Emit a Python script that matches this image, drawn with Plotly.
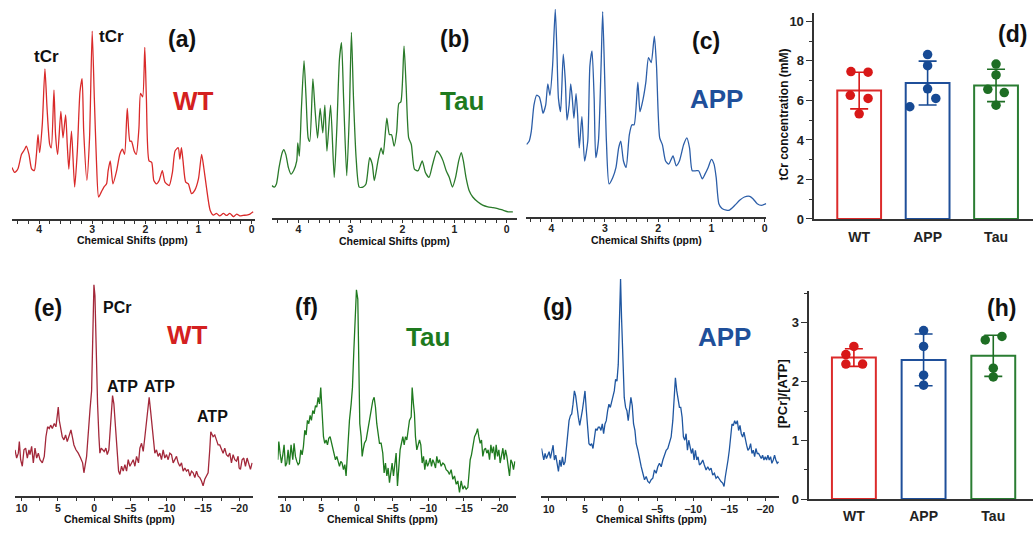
import plotly.graph_objects as go

W, H = 1034, 535

# ---------------- 1H spectra (a) WT, (b) Tau, (c) APP ----------------
ppm_a = [4.51,4.46,4.40,4.33,4.27,4.24,4.19,4.14,4.09,4.05,
         4.02,3.99,3.94,3.89,3.85,3.80,3.77,3.72,3.69,3.65,
         3.59,3.55,3.50,3.47,3.44,3.39,3.33,3.28,3.23,3.19,
         3.16,3.10,3.05,3.00,2.96,2.92,2.88,2.83,2.78,2.73,
         2.70,2.66,2.61,2.54,2.48,2.43,2.39,2.34,2.29,2.26,
         2.21,2.17,2.12,2.09,2.05,2.01,1.98,1.93,1.88,1.84,
         1.79,1.74,1.68,1.63,1.55,1.49,1.44,1.38,1.35,1.32,
         1.29,1.24,1.19,1.13,1.07,1.00,0.94,0.90,0.85,0.78,
         0.72,0.66,0.60,0.53,0.47,0.41,0.34,0.28,0.22,0.16,
         0.09,0.03,-0.03]
int_a = [27.4,24.8,26.6,34.4,37.1,38.8,34.4,26.6,25.7,34.4,
         44.9,35.3,50.2,79.9,58.9,39.7,37.9,68.5,44.9,34.4,
         57.2,43.2,55.4,39.7,26.6,46.7,17.0,36.2,67.7,74.7,
         46.7,20.5,43.2,100,64.2,30.9,11.7,14.3,17.0,18.7,
         25.7,30.9,18.7,25.7,34.4,37.1,34.4,58.9,41.4,41.4,
         36.2,34.4,48.4,66.8,65.0,91.3,64.2,30.9,30.1,20.5,
         18.7,20.5,25.7,19.6,17.8,24.8,36.2,37.9,31.8,37.9,
         30.9,19.6,18.7,13.5,15.2,21.3,34.4,27.4,17.0,4.7,
         2.1,3.0,1.6,3.0,1.9,3.0,1.2,2.6,1.6,1.9,
         2.1,2.6,3.8]

ppm_b = [4.51,4.46,4.42,4.37,4.31,4.28,4.24,4.19,4.14,4.09,
         4.03,4.01,3.98,3.94,3.89,3.85,3.81,3.78,3.72,3.68,
         3.63,3.58,3.53,3.49,3.45,3.38,3.31,3.26,3.21,3.17,
         3.13,3.07,3.02,2.98,2.94,2.89,2.83,2.76,2.70,2.63,
         2.58,2.54,2.47,2.41,2.37,2.30,2.25,2.21,2.16,2.11,
         2.07,2.03,1.97,1.93,1.88,1.83,1.77,1.70,1.62,1.56,
         1.49,1.42,1.34,1.28,1.22,1.16,1.10,1.04,0.98,0.92,
         0.87,0.83,0.78,0.72,0.65,0.55,0.46,0.36,0.26,0.17,
         0.07,-0.03,-0.12]
int_b = [17.6,16.8,18.5,27.3,35.3,37.0,34.4,27.3,23.8,25.6,
         30.9,40.6,33.5,59.1,84.7,64.4,43.2,41.4,75.0,59.1,
         43.2,59.1,45.9,60.8,36.2,60.8,22.0,48.5,85.5,94.4,
         64.4,22.9,55.6,100,64.4,32.6,16.8,16.8,18.5,32.6,
         29.1,20.3,30.9,37.9,34.4,53.8,45.0,45.0,38.8,46.7,
         61.7,62.6,92.6,71.4,43.2,39.7,26.5,25.6,30.9,24.7,
         22.0,29.1,36.2,34.4,30.9,25.6,22.0,16.8,22.0,30.9,
         35.3,30.9,22.0,15.0,11.5,8.8,7.1,6.2,5.8,5.3,
         4.4,3.5,3.5]

ppm_c = [4.47,4.42,4.38,4.33,4.28,4.23,4.19,4.16,4.11,4.07,
         4.03,3.98,3.93,3.90,3.87,3.83,3.78,3.74,3.71,3.67,
         3.64,3.61,3.58,3.54,3.51,3.48,3.43,3.38,3.32,3.28,
         3.24,3.20,3.17,3.12,3.07,3.04,3.00,2.97,2.92,2.85,
         2.79,2.74,2.70,2.65,2.60,2.54,2.49,2.45,2.38,2.34,
         2.28,2.23,2.18,2.13,2.07,2.03,1.97,1.92,1.86,1.80,
         1.72,1.66,1.60,1.52,1.46,1.41,1.36,1.30,1.24,1.17,
         1.12,1.06,1.00,0.95,0.91,0.86,0.80,0.72,0.66,0.56,
         0.47,0.38,0.28,0.22,0.14,0.06,-0.03]
int_c = [35.0,36.6,41.3,53.9,58.7,57.9,53.9,50.0,53.9,64.2,
         58.7,72.9,100,80.8,57.1,50.8,78.4,65.0,46.8,53.9,
         64.2,57.1,47.6,59.5,49.2,33.4,48.4,27.1,36.6,72.9,
         80.0,57.1,28.7,36.6,72.9,98.9,65.0,36.6,16.1,19.2,
         24.0,33.4,36.6,27.1,24.0,39.7,44.5,44.5,65.0,50.8,
         57.1,65.0,76.8,74.4,87.1,72.9,38.2,35.0,27.1,25.6,
         29.5,24.8,27.1,35.0,38.2,33.4,22.4,22.4,22.4,18.5,
         20.8,24.0,27.9,25.6,19.2,6.6,4.3,3.5,3.5,5.8,
         8.2,9.8,10.1,9.0,6.6,5.8,6.6]

# ---------------- 31P spectra (e) WT, (f) Tau, (g) APP ----------------
ppm_e = [10.92,10.69,10.46,10.32,10.14,9.91,9.68,9.45,9.22,8.99,
         8.85,8.62,8.39,8.16,7.93,7.70,7.47,7.15,6.88,6.65,
         6.42,6.19,6.00,5.77,5.50,5.27,5.08,4.95,4.81,4.63,
         4.40,4.17,3.94,3.71,3.48,3.20,2.97,2.79,2.51,2.19,
         1.87,1.59,1.41,1.23,1.04,0.91,0.77,0.58,0.35,0.17,
         0.03,-0.11,-0.29,-0.47,-0.66,-0.79,-0.98,-1.21,-1.39,-1.62,
         -1.81,-2.03,-2.22,-2.40,-2.54,-2.72,-2.86,-3.00,-3.18,-3.37,
         -3.55,-3.78,-4.01,-4.24,-4.47,-4.70,-4.93,-5.16,-5.39,-5.62,
         -5.85,-6.12,-6.31,-6.54,-6.77,-7.00,-7.23,-7.41,-7.59,-7.78,
         -7.96,-8.14,-8.37,-8.60,-8.83,-9.06,-9.29,-9.52,-9.75,-9.98,
         -10.21,-10.44,-10.67,-10.90,-11.13,-11.36,-11.59,-11.82,-12.05,-12.28,
         -12.51,-12.74,-12.97,-13.20,-13.43,-13.66,-13.89,-14.12,-14.35,-14.58,
         -14.81,-15.03,-15.26,-15.49,-15.72,-15.95,-16.09,-16.41,-16.64,-16.87,
         -17.10,-17.33,-17.56,-17.79,-18.02,-18.25,-18.48,-18.71,-18.94,-19.17,
         -19.40,-19.63,-19.86,-20.00,-20.18,-20.41,-20.64,-20.87,-21.10,-21.33,
         -21.56,-21.79]
int_e = [21.8,17.9,20.2,25.7,17.1,14.0,21.8,22.6,17.9,21.8,
         19.5,23.4,15.6,22.6,17.9,20.2,17.1,15.6,18.7,28.0,
         32.7,31.9,33.5,31.9,34.3,32.7,38.2,42.1,35.8,31.2,
         28.0,26.5,28.8,25.7,28.0,31.2,27.3,24.1,21.8,20.2,
         17.9,15.6,10.9,14.0,18.7,24.9,32.7,40.5,49.8,73.2,
         100,95.0,67.0,43.6,28.0,20.2,22.6,21.8,21.0,22.6,
         19.5,21.8,31.2,43.6,47.5,43.6,35.8,28.0,18.7,11.7,
         10.1,14.0,11.7,14.8,11.7,17.1,14.0,15.6,17.1,14.0,
         18.7,15.6,22.6,24.9,21.0,28.0,34.3,40.5,46.7,40.5,
         34.3,29.6,20.2,21.8,18.7,20.2,17.1,21.8,17.9,19.5,
         17.1,20.2,19.5,15.6,17.1,18.7,15.6,14.0,15.6,11.7,
         13.2,11.7,12.5,9.3,11.7,10.9,8.6,11.7,9.3,8.6,
         7.0,4.7,7.8,9.3,10.9,21.8,30.4,28.0,28.8,26.5,
         24.1,24.1,21.8,20.2,22.6,19.5,18.7,20.2,15.6,19.5,
         17.1,16.4,18.7,13.2,12.5,17.1,17.9,14.0,17.9,15.6,
         12.5,15.6]

ppm_f = [11.07,10.93,10.75,10.56,10.37,10.19,10.00,9.81,9.63,9.44,
         9.21,8.97,8.79,8.60,8.41,8.22,8.04,7.85,7.66,7.48,
         7.29,7.10,6.92,6.73,6.54,6.36,6.17,5.98,5.79,5.61,
         5.42,5.23,5.05,4.86,4.67,4.49,4.30,4.11,3.93,3.74,
         3.55,3.36,3.18,2.99,2.80,2.62,2.43,2.24,2.06,1.87,
         1.68,1.50,1.36,1.21,1.03,0.79,0.61,0.42,0.23,0.05,
         -0.14,-0.28,-0.42,-0.61,-0.75,-0.89,-1.07,-1.31,-1.54,-1.78,
         -2.01,-2.24,-2.43,-2.62,-2.80,-2.99,-3.18,-3.41,-3.64,-3.83,
         -4.02,-4.21,-4.39,-4.58,-4.77,-4.95,-5.14,-5.33,-5.51,-5.70,
         -5.89,-6.07,-6.26,-6.45,-6.64,-6.82,-7.01,-7.20,-7.38,-7.62,
         -7.76,-7.94,-8.08,-8.22,-8.41,-8.60,-8.79,-8.97,-9.16,-9.35,
         -9.53,-9.72,-9.91,-10.09,-10.28,-10.47,-10.65,-10.84,-11.03,-11.21,
         -11.40,-11.59,-11.82,-12.06,-12.29,-12.52,-12.76,-12.99,-13.22,-13.46,
         -13.69,-13.93,-14.16,-14.39,-14.63,-14.86,-15.09,-15.33,-15.56,-15.70,
         -15.89,-16.07,-16.26,-16.50,-16.73,-16.92,-17.10,-17.29,-17.48,-17.66,
         -17.85,-18.04,-18.22,-18.41,-18.60,-18.79,-18.97,-19.16,-19.35,-19.53,
         -19.72,-19.91,-20.09,-20.28,-20.47,-20.65,-20.84,-21.03,-21.21,-21.40,
         -21.59,-21.78,-21.96,-22.15]
int_f = [17.5,26.3,20.7,15.9,19.9,24.7,14.3,15.9,22.3,15.1,
         24.7,17.5,25.5,19.1,16.7,15.1,15.9,22.3,19.9,23.9,
         31.8,29.5,36.6,35.0,39.0,36.6,41.4,39.8,43.8,43.0,
         47.8,44.6,52.5,38.2,28.7,25.5,27.1,24.7,27.9,28.7,
         25.5,22.3,19.9,17.5,19.1,15.9,14.3,16.7,15.9,12.7,
         15.1,9.6,17.5,28.7,36.6,44.6,52.5,70.1,86.0,100,
         95.5,63.7,35.0,28.7,19.1,22.3,25.5,27.1,31.8,36.6,
         41.4,46.2,47.8,43.0,35.0,30.3,25.5,25.5,20.7,11.1,
         15.9,9.6,13.5,6.4,12.7,15.9,9.6,15.9,20.7,4.8,
         15.9,22.3,25.5,28.7,24.7,28.7,27.1,31.8,36.6,38.2,
         52.5,44.6,39.8,28.7,22.3,24.7,27.1,24.7,15.9,19.1,
         12.7,17.5,14.3,15.9,18.3,14.3,17.5,15.9,13.5,19.1,
         15.9,17.5,14.3,15.9,15.1,12.7,11.9,10.4,12.7,8.0,
         9.6,5.6,7.2,1.6,7.2,3.2,4.8,3.2,4.0,9.6,
         17.5,19.9,23.9,28.7,30.3,32.6,28.7,25.5,27.1,19.1,
         22.3,23.1,20.7,22.3,17.5,24.7,20.7,23.9,17.5,24.7,
         19.1,22.3,15.9,20.7,23.1,17.5,22.3,19.1,12.7,9.6,
         17.5,15.9,12.7,16.7]

ppm_g = [11.01,10.88,10.69,10.51,10.32,10.14,9.95,9.77,9.59,9.40,
         9.22,9.03,8.85,8.66,8.48,8.29,8.11,7.93,7.74,7.56,
         7.37,7.19,7.00,6.82,6.64,6.45,6.27,6.08,5.90,5.71,
         5.53,5.35,5.16,4.98,4.79,4.61,4.43,4.24,4.06,3.87,
         3.69,3.50,3.32,3.13,2.95,2.77,2.58,2.40,2.21,2.03,
         1.84,1.66,1.47,1.29,1.11,0.92,0.74,0.55,0.37,0.18,
         0.05,-0.09,-0.28,-0.46,-0.65,-0.83,-1.01,-1.20,-1.38,-1.57,
         -1.75,-1.94,-2.12,-2.35,-2.58,-2.81,-3.04,-3.27,-3.50,-3.73,
         -3.96,-4.19,-4.42,-4.65,-4.88,-5.11,-5.34,-5.58,-5.81,-6.04,
         -6.27,-6.50,-6.73,-6.96,-7.19,-7.37,-7.55,-7.74,-7.92,-8.11,
         -8.29,-8.48,-8.66,-8.85,-9.03,-9.22,-9.40,-9.59,-9.77,-9.95,
         -10.14,-10.32,-10.51,-10.69,-10.88,-11.11,-11.34,-11.56,-11.80,-12.03,
         -12.26,-12.49,-12.72,-12.95,-13.18,-13.41,-13.64,-13.87,-14.10,-14.29,
         -14.47,-14.65,-14.84,-15.02,-15.21,-15.39,-15.58,-15.76,-15.94,-16.13,
         -16.31,-16.50,-16.68,-16.87,-17.05,-17.24,-17.42,-17.60,-17.79,-17.97,
         -18.16,-18.34,-18.53,-18.71,-18.89,-19.08,-19.26,-19.45,-19.63,-19.82,
         -20.00,-20.18,-20.37,-20.55,-20.74,-20.92,-21.11,-21.29,-21.47,-21.66,
         -21.84]
int_g = [22.0,19.7,16.7,19.7,17.4,18.9,20.5,17.4,21.2,23.5,
         16.7,18.9,15.2,11.4,16.7,13.6,18.2,14.4,15.9,21.2,
         27.3,34.8,37.1,37.9,42.4,48.5,46.2,39.4,36.4,32.6,
         35.6,39.4,43.9,48.5,39.4,28.8,24.2,23.5,24.2,22.0,
         27.3,31.1,30.3,31.8,31.8,30.3,33.3,28.8,33.3,34.8,
         39.4,42.4,40.9,43.9,45.5,48.5,53.8,53.0,60.6,81.8,
         100,81.8,60.6,45.5,40.9,39.4,34.8,39.4,45.5,41.7,
         33.3,30.3,24.2,21.2,16.7,13.6,10.6,7.6,9.1,6.8,
         6.1,7.6,8.3,12.1,10.6,13.6,15.2,13.6,16.7,18.9,
         21.2,22.0,24.2,27.3,34.8,48.5,54.5,48.5,45.5,40.9,
         40.9,36.4,27.3,25.8,28.8,21.2,25.8,22.7,19.7,22.0,
         16.7,21.2,16.7,18.2,14.4,15.2,16.7,14.4,12.1,13.6,
         12.1,12.9,9.8,10.6,8.3,9.1,7.6,6.8,6.1,4.5,
         9.1,12.1,16.7,21.2,28.8,33.3,32.6,34.8,33.3,34.8,
         30.3,32.6,28.8,27.3,29.5,25.8,23.5,21.2,22.0,24.2,
         19.7,21.2,18.2,22.0,19.7,19.7,18.2,17.4,18.9,16.7,
         18.2,16.7,18.9,16.7,18.2,15.2,16.7,18.9,16.7,15.2,
         15.9]

# ---------------- bar charts ----------------
groups = ["WT", "APP", "Tau"]
tcr_mean = [6.50, 6.88, 6.76]
tcr_sd = [0.93, 1.11, 0.82]
tcr_pts = [[7.46, 7.43, 6.26, 6.10, 5.32],
           [8.32, 7.76, 6.59, 6.10, 5.68],
           [7.84, 7.29, 6.56, 6.40, 5.76]]
tcr_jit = [[-0.12, 0.13, -0.13, 0.13, 0.0],
           [0.0, 0.0, 0.0, 0.12, -0.26],
           [0.0, 0.0, -0.12, 0.12, 0.0]]

ratio_mean = [2.41, 2.37, 2.44]
ratio_sd = [0.15, 0.44, 0.35]
ratio_pts = [[2.60, 2.46, 2.30, 2.30],
             [2.87, 2.60, 2.11, 1.94],
             [2.71, 2.77, 2.23, 2.08]]
ratio_jit = [[0.0, -0.115, -0.115, 0.125],
             [0.0, 0.0, 0.0, 0.0],
             [-0.115, 0.125, 0.0, 0.0]]

# ---------------- styling ----------------
FONT = "Arial, Liberation Sans, sans-serif"
AX = "#333333"
C_WT, C_APP, C_TAU = "#dc2b2b", "#1f4f9a", "#2a7d32"
C_WT_PT, C_APP_PT, C_TAU_PT = "#d81818", "#174a94", "#1e6e24"
bar_cols = [C_WT, C_APP, C_TAU]
pt_cols = [C_WT_PT, C_APP_PT, C_TAU_PT]


def xd(l, r):
    return [l / W, r / W]


def yd(top, bottom):
    return [1 - bottom / H, 1 - top / H]


fig = go.Figure()
layout = dict(width=W, height=H, autosize=False,
              margin=dict(l=0, r=0, t=0, b=0),
              paper_bgcolor="white", plot_bgcolor="white",
              showlegend=False, barmode="overlay",
              font=dict(family=FONT, color="#111"))

tickf = dict(family=FONT, size=10.5, color="#222", weight="bold")

spectra = [
    # ppm, int, color, x-dom px, x-range, y top px, axis px, ymax, dtick, minor, shape, label standoff
    (ppm_a, int_a, "#d92a2a", (12, 255), [4.51, -0.06], 5, 222.3, 113.9, 1, 0.2, "spline", -3),
    (ppm_b, int_b, "#2a7a2a", (272, 517), [4.51, -0.19], 5, 221.7, 114.7, 1, 0.2, "spline", -3),
    (ppm_c, int_c, "#2c5ea8", (527, 767), [4.47, -0.03], 5, 220.7, 102.1, 1, 0.2, "spline", -3),
    (ppm_e, int_e, "#a3283a", (15, 253), [10.92, -21.88], 280, 503.3, 104.3, 5, 2.5, "linear", -1),
    (ppm_f, int_f, "#1f7a1f", (278, 516), [11.08, -22.24], 280, 503.3, 106.8, 5, 2.5, "linear", -1),
    (ppm_g, int_g, "#1f56a0", (542, 780), [11.01, -21.94], 280, 503.8, 101.5, 5, 2.5, "linear", -1),
]
idx = 1
for ppm, inten, col, (l, r), xr, top, axp, ymax, dt, mdt, shape, stand in spectra:
    xa = "x" if idx == 1 else f"x{idx}"
    ya = "y" if idx == 1 else f"y{idx}"
    line = dict(color=col, width=1.3, shape=shape)
    if shape == "spline":
        line["smoothing"] = 0.6
    fig.add_trace(go.Scatter(x=ppm, y=inten, mode="lines", line=line,
                             xaxis=xa, yaxis=ya, hoverinfo="skip"))
    layout["xaxis" if idx == 1 else f"xaxis{idx}"] = dict(
        domain=xd(l, r), range=xr, anchor=ya, showline=True, linecolor=AX,
        linewidth=1.5, ticks="outside", ticklen=3, tickwidth=1.3, tickcolor=AX,
        ticklabelstandoff=stand,
        tick0=0, dtick=dt, tickfont=tickf, showgrid=False, zeroline=False,
        minor=dict(ticks="outside", ticklen=3, tickwidth=1, tickcolor=AX, dtick=mdt, showgrid=False))
    layout["yaxis" if idx == 1 else f"yaxis{idx}"] = dict(
        domain=yd(top, axp), range=[0, ymax], anchor=xa, visible=False)
    idx += 1

# bar panels
bars = [
    (tcr_mean, tcr_sd, tcr_pts, tcr_jit, (815, 1034), [-0.657, 2.54], (13.3, 222.3), [0, 10.42], 2, 1, 0.64, 13, 4),
    (ratio_mean, ratio_sd, ratio_pts, ratio_jit, (810, 1034), [-0.641, 2.57], (295, 506.7), [0, 3.55], 1, 0.5, 0.63, 13, 3),
]
for mean, sd, pts, jit, (l, r), xr, (t, b), yr, dt, mdt, bw, tfs, xtl in bars:
    xa, ya = f"x{idx}", f"y{idx}"
    for i in range(3):
        fig.add_trace(go.Bar(x=[i], y=[mean[i]], width=bw, xaxis=xa, yaxis=ya,
                             marker=dict(color="white", line=dict(color=bar_cols[i], width=2)),
                             hoverinfo="skip"))
        fig.add_trace(go.Scatter(x=[i], y=[mean[i]], mode="markers", xaxis=xa, yaxis=ya,
                                 marker=dict(size=1, color="rgba(0,0,0,0)"),
                                 error_y=dict(type="data", array=[sd[i]], color=pt_cols[i],
                                              thickness=1.6, width=9),
                                 hoverinfo="skip"))
        fig.add_trace(go.Scatter(x=[i + j for j in jit[i]], y=pts[i], mode="markers",
                                 xaxis=xa, yaxis=ya,
                                 marker=dict(size=9.5, color=pt_cols[i]), hoverinfo="skip"))
    layout[f"xaxis{idx}"] = dict(
        domain=xd(l, r), range=xr, anchor=ya, showline=True, linecolor=AX, linewidth=1.5,
        ticks="outside", ticklen=xtl, tickcolor="rgba(0,0,0,0)",
        tickvals=[0, 1, 2], ticktext=groups, showgrid=False, zeroline=False,
        tickfont=dict(family=FONT, size=14, color="#222", weight="bold"))
    layout[f"yaxis{idx}"] = dict(
        domain=yd(t, b), range=yr, anchor=xa, showline=True, linecolor=AX, linewidth=1.5,
        ticks="outside", ticklen=6, tickwidth=1.3, tickcolor=AX, tick0=0, dtick=dt,
        showgrid=False, zeroline=False,
        tickfont=dict(family=FONT, size=tfs, color="#222", weight="bold"),
        minor=dict(ticks="outside", ticklen=3, tickwidth=1, tickcolor=AX, dtick=mdt, showgrid=False))
    idx += 1


def ann(text, x, y, size, color="#111", angle=0):
    return dict(text=text, x=x / W, y=1 - y / H, xref="paper", yref="paper",
                showarrow=False, xanchor="center", yanchor="middle", textangle=angle,
                font=dict(family=FONT, size=size, color=color, weight="bold"))


anns = [
    ann("(a)", 182, 40, 23), ann("tCr", 47, 57, 17), ann("tCr", 112, 37, 17),
    ann("WT", 194, 103, 26, "#d42020"),
    ann("(b)", 455, 40, 23), ann("Tau", 462, 103, 26, "#1e7a1e"),
    ann("(c)", 707, 42, 23), ann("APP", 717, 100, 26, "#1f4f9a"),
    ann("(d)", 1013, 35, 23),
    ann("(e)", 48, 313, 23), ann("PCr", 117, 312, 16), ann("WT", 188, 340, 26, "#d42020"),
    ann("ATP", 123, 392, 16), ann("ATP", 160, 392, 16), ann("ATP", 213, 423, 16),
    ann("(f)", 307, 312, 23), ann("Tau", 428, 342, 26, "#1e7a1e"),
    ann("(g)", 558, 312, 23), ann("APP", 725, 342, 26, "#1f4f9a"),
    ann("(h)", 1002, 313, 23),
    ann("Chemical Shifts (ppm)", 133, 244, 10.5), ann("Chemical Shifts (ppm)", 395, 245, 10.5),
    ann("Chemical Shifts (ppm)", 647, 244, 10.5),
    ann("Chemical Shifts (ppm)", 120, 527, 10.5), ann("Chemical Shifts (ppm)", 383, 527, 10.5),
    ann("Chemical Shifts (ppm)", 652, 527, 10.5),
    ann("tCr concentration (mM)", 785, 116, 12, angle=-90),
    ann("[PCr]/[ATP]", 783, 400, 13, angle=-90),
]
layout["annotations"] = anns
fig.update_layout(**layout)
fig.write_html(
    "out.html",
    config={"displayModeBar": False, "responsive": False},
    post_script=("var s=document.documentElement.style;s.margin='0';s.padding='0';s.overflow='hidden';"
                 "var b=document.body.style;b.margin='0';b.padding='0';b.overflow='hidden';"),
)
